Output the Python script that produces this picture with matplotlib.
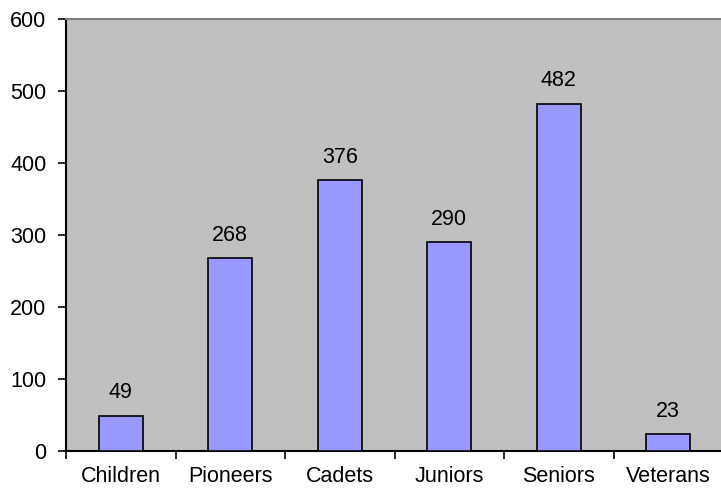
import matplotlib.pyplot as plt
import numpy as np

categories = ['Children', 'Pioneers', 'Cadets', 'Juniors', 'Seniors', 'Veterans']
counts = [49, 268, 376, 290, 482, 23]

plt.rcParams['font.family'] = ['Liberation Sans', 'DejaVu Sans']

fig = plt.figure(figsize=(7.21, 4.92), dpi=100)
ax = fig.add_axes([66 / 721, 1 - 451 / 492, 657 / 721, 432 / 492])
ax.set_facecolor('#C0C0C0')

x = np.arange(len(categories))
ax.bar(x, counts, width=0.4, color='#9999FF', edgecolor='black', linewidth=1.2, zorder=3)
for xi, v in zip(x, counts):
    ax.annotate(str(v), (xi, v), xytext=(0, 9), textcoords='offset points',
                ha='center', va='bottom', fontsize=15.5)

ax.set_xlim(-0.5, len(categories) - 0.5)
ax.set_ylim(0, 600)
ax.set_yticks(range(0, 601, 100))
ax.set_xticks(x)
ax.set_xticklabels(categories)
ax.set_xticks(np.arange(-0.5, len(categories), 1), minor=True)
ax.tick_params(axis='x', which='major', length=0, pad=11, labelsize=15.5)
ax.tick_params(axis='x', which='minor', length=6, width=1.2, direction='out')
ax.tick_params(axis='y', length=6, width=1.2, direction='out', labelsize=15.5, pad=8)

ax.spines['left'].set_linewidth(1.5)
ax.spines['bottom'].set_linewidth(1.5)
ax.spines['top'].set_color('#808080')
ax.spines['top'].set_linewidth(1.5)
ax.spines['right'].set_visible(False)

fig.savefig('out.png', dpi=100)
